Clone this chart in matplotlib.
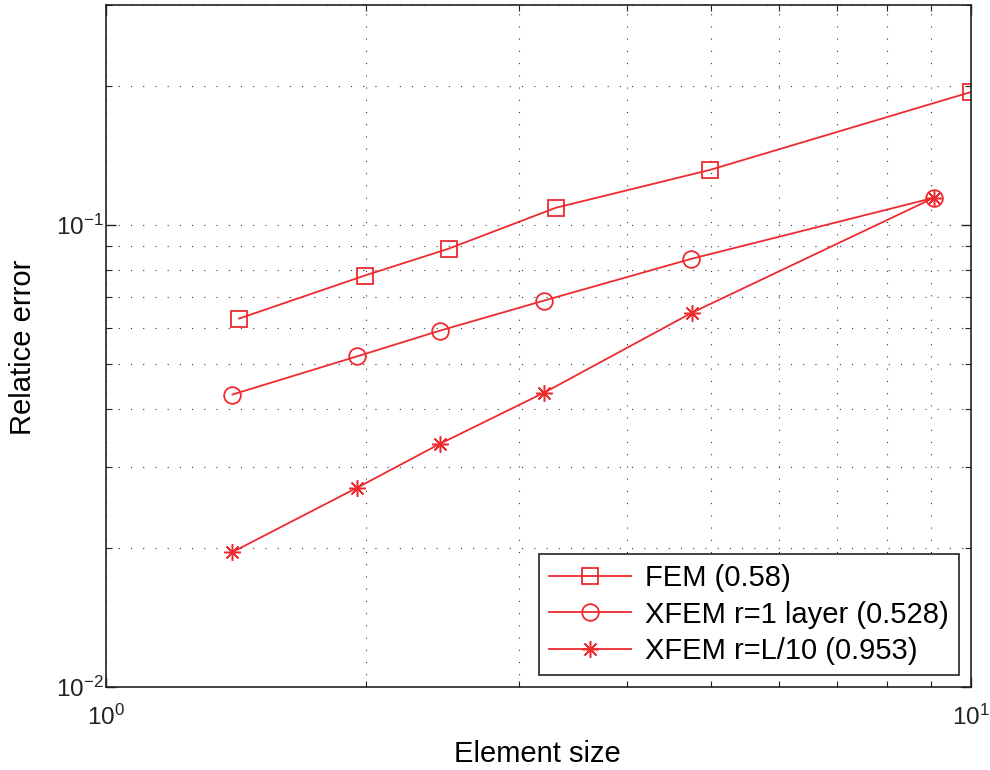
import numpy as np
import matplotlib
matplotlib.use("Agg")
import matplotlib.pyplot as plt
from matplotlib.ticker import LogLocator, NullFormatter

plt.rcParams['font.family'] = ['Liberation Sans', 'DejaVu Sans']

# values
fem_h = [1.425, 1.99, 2.49, 3.31, 4.99, 10.0]
fem_err = [0.0628, 0.0778, 0.0890, 0.1091, 0.1318, 0.1944]

xfem1_h = [1.40, 1.95, 2.43, 3.21, 4.75, 9.06]
xfem1_err = [0.0430, 0.0520, 0.0591, 0.0687, 0.0846, 0.1147]

xfem2_h = [1.40, 1.95, 2.43, 3.21, 4.76, 9.06]
xfem2_err = [0.0196, 0.0270, 0.0336, 0.0434, 0.0647, 0.1147]

labels = ['FEM (0.58)', 'XFEM r=1 layer (0.528)', 'XFEM r=L/10 (0.953)']

red = '#ee2a2f'

fig = plt.figure(figsize=(9.9, 7.7), dpi=100)
ax = fig.add_axes([0.1071, 0.1078, 0.8737, 0.8857])

ax.loglog(fem_h, fem_err, '-', color=red, lw=1.3, marker='s', ms=12,
          mfc='none', mec=red, mew=1.3, label=labels[0])
ax.loglog(xfem1_h, xfem1_err, '-', color=red, lw=1.3, marker='o', ms=12,
          mfc='none', mec=red, mew=1.3, label=labels[1])
# matlab style '*' = plus + cross
ax.loglog(xfem2_h, xfem2_err, '-', color=red, lw=1.3, marker=(8, 2, 0), ms=12,
          mfc='none', mec=red, mew=1.1, label=labels[2])

ax.set_xlim(1, 10)
ax.set_ylim(0.01, 0.3)

ax.xaxis.set_major_locator(LogLocator(base=10, numticks=5))
ax.xaxis.set_minor_locator(LogLocator(base=10, subs=np.arange(2, 10), numticks=20))
ax.yaxis.set_major_locator(LogLocator(base=10, numticks=5))
ax.yaxis.set_minor_locator(LogLocator(base=10, subs=np.arange(2, 10), numticks=20))
ax.xaxis.set_minor_formatter(NullFormatter())
ax.yaxis.set_minor_formatter(NullFormatter())

ax.grid(True, which='both', color='#333333', lw=0.8, linestyle=(0, (1, 10)))

ax.tick_params(which='both', direction='in', top=True, right=True,
               colors='#222222', labelsize=17.5)
ax.tick_params(which='major', length=7, width=1)
ax.tick_params(which='minor', length=4, width=0.8)
ax.tick_params(axis='y', which='major', pad=2)
ax.tick_params(axis='x', which='major', pad=13)

for sp in ax.spines.values():
    sp.set_color('#222222')
    sp.set_linewidth(1.2)

ax.set_xlabel('Element size', fontsize=21, va='center')
ax.set_ylabel('Relatice error', fontsize=21, va='center')
ax.xaxis.set_label_coords(0.499, -0.098)
ax.yaxis.set_label_coords(-0.0965, 0.4985)

leg = ax.legend(loc='lower right', fontsize=21, handlelength=2.8,
                borderaxespad=0.4, fancybox=False, framealpha=1,
                edgecolor='#222222', borderpad=0.35, labelspacing=0.29,
                handletextpad=0.5)
leg.get_frame().set_linewidth(1.2)

fig.savefig('out.png', dpi=100)
